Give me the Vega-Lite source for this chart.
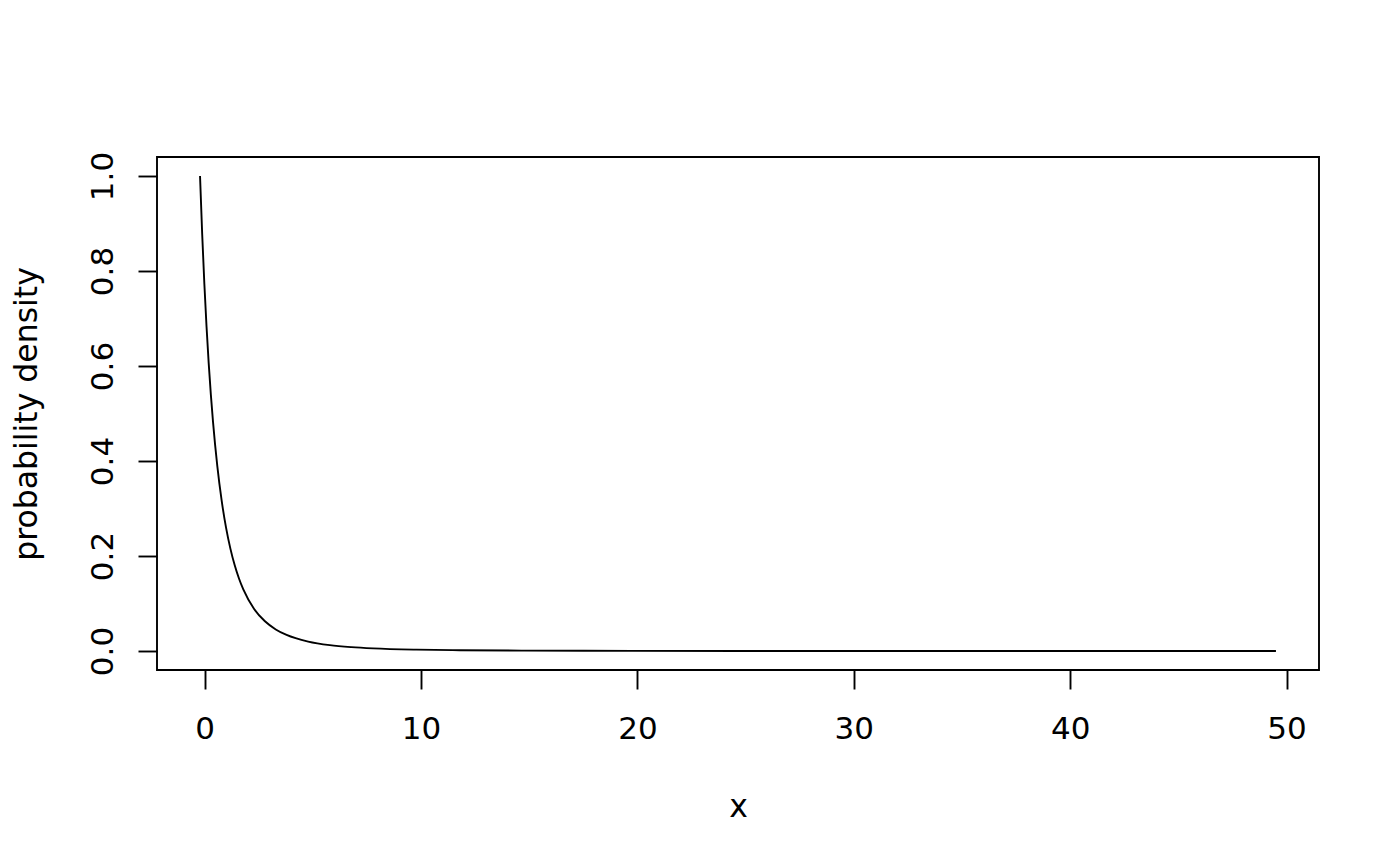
{
  "$schema": "https://vega.github.io/schema/vega-lite/v6.json",
  "width": 1162,
  "height": 513,
  "autosize": {"type": "none"},
  "padding": {"left": 157, "top": 157, "right": 81, "bottom": 196},
  "background": "white",
  "config": {
    "view": {"stroke": "black", "strokeWidth": 1.9},
    "font": "DejaVu Sans",
    "axis": {
      "grid": false,
      "domain": false,
      "tickColor": "black",
      "tickWidth": 1.9,
      "tickSize": 19,
      "labelFont": "DejaVu Sans",
      "labelFontSize": 31,
      "labelColor": "black",
      "titleFont": "DejaVu Sans",
      "titleFontSize": 31.5,
      "titleFontWeight": "normal",
      "titleColor": "black",
      "labelFlush": false,
      "labelOverlap": false
    }
  },
  "data": {
    "values": [
      {"x": -0.217, "y": 1.0},
      {"x": -0.117, "y": 0.8771},
      {"x": -0.017, "y": 0.7725},
      {"x": 0.083, "y": 0.683},
      {"x": 0.183, "y": 0.6061},
      {"x": 0.283, "y": 0.5398},
      {"x": 0.383, "y": 0.4823},
      {"x": 0.583, "y": 0.3885},
      {"x": 0.783, "y": 0.3164},
      {"x": 0.983, "y": 0.2603},
      {"x": 1.183, "y": 0.2161},
      {"x": 1.383, "y": 0.1809},
      {"x": 1.583, "y": 0.1526},
      {"x": 1.783, "y": 0.1296},
      {"x": 2.283, "y": 0.0885},
      {"x": 2.783, "y": 0.0625},
      {"x": 3.283, "y": 0.0454},
      {"x": 3.783, "y": 0.0337},
      {"x": 4.783, "y": 0.0198},
      {"x": 5.783, "y": 0.0123},
      {"x": 6.783, "y": 0.0081},
      {"x": 7.783, "y": 0.0055},
      {"x": 9.783, "y": 0.0028},
      {"x": 11.783, "y": 0.0016},
      {"x": 14.783, "y": 0.00077},
      {"x": 19.783, "y": 0.00029},
      {"x": 24.783, "y": 0.00013},
      {"x": 29.783, "y": 0.00007},
      {"x": 39.783, "y": 0.00002},
      {"x": 49.51, "y": 0.00001}
    ]
  },
  "mark": {"type": "line", "color": "black", "strokeWidth": 1.9, "interpolate": "monotone", "clip": true},
  "encoding": {
    "x": {
      "field": "x",
      "type": "quantitative",
      "scale": {"domain": [-2.206, 51.5], "nice": false, "zero": false},
      "axis": {
        "title": "x",
        "values": [0, 10, 20, 30, 40, 50],
        "labelBaseline": "alphabetic",
        "labelPadding": 49,
        "titleX": 581,
        "titleY": 146,
        "titleBaseline": "alphabetic",
        "titleAlign": "center"
      }
    },
    "y": {
      "field": "y",
      "type": "quantitative",
      "scale": {"domain": [-0.04, 1.04], "nice": false, "zero": false},
      "axis": {
        "title": "probability density",
        "values": [0, 0.2, 0.4, 0.6, 0.8, 1.0],
        "format": ".1f",
        "labelAngle": -90,
        "labelAlign": "center",
        "labelBaseline": "alphabetic",
        "labelPadding": 26,
        "titleAngle": -90,
        "titleX": -121,
        "titleY": 256.5,
        "titleAlign": "center",
        "titleBaseline": "alphabetic"
      }
    }
  }
}
